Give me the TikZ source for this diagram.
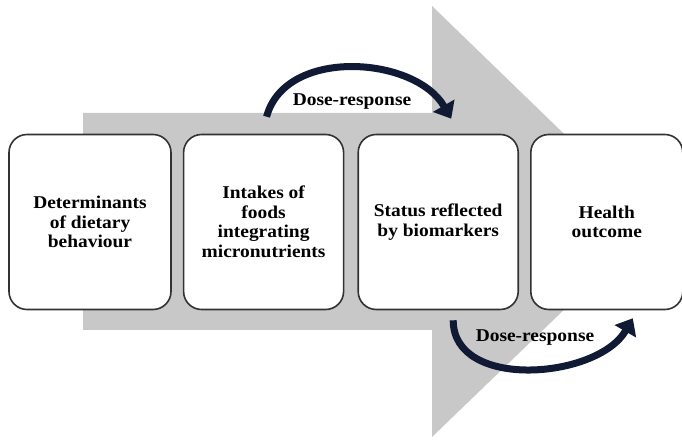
\documentclass[tikz,border=0pt]{standalone}
\usepackage{fontspec}
\setmainfont{Liberation Serif}[FakeStretch=1.08]
\usetikzlibrary{arrows.meta, positioning}
\definecolor{flowgray}{RGB}{200,200,200}
\definecolor{dosenavy}{RGB}{16,26,52}
\definecolor{boxline}{RGB}{50,50,50}

\begin{document}
\begin{tikzpicture}[
		x=1pt, y=1pt,
		node distance=11pt,
		block/.style={
			draw=boxline,
			line width=1.6pt,
			fill=white,
			rounded corners=18pt,
			align=center,
			minimum height=175pt,
			font=\bfseries\fontsize{18}{19.5}\selectfont
		},
		dosearrow/.style={-{Triangle[width=24pt,length=15pt]}, line width=7pt, draw=dosenavy},
		doselabel/.style={font=\bfseries\fontsize{18}{20}\selectfont}
		]
		
		\useasboundingbox (0,0) rectangle (682,439);
		\fill[flowgray] (83,109) -- (432,109) -- (432,2) -- (655,217)
			-- (432,433) -- (432,326) -- (83,326) -- cycle;
		
		\node[block, minimum width=162pt] (determinants) at (90,217)
		{Determinants\\of dietary\\behaviour};
		
		\node[block, minimum width=160pt, right=of determinants] (intakes)
		{Intakes of\\foods\\integrating\\micronutrients};
		
		\node[block, minimum width=160pt, right=13pt of intakes] (status)
		{Status reflected\\by biomarkers};
		
		\node[block, minimum width=152pt, right=of status] (health)
		{Health\\outcome};
		
		\draw[dosearrow] ([xshift=3pt,yshift=17pt]intakes.north)
			to[out=75,in=120] ([xshift=13pt,yshift=15pt]status.north);
		\node[doselabel] (dosetop) at (352,337) {Dose-response};
		
		\draw[dosearrow] ([xshift=15pt,yshift=-10pt]status.south)
			to[out=-90,in=-120] ([xshift=26pt,yshift=-8pt]health.south);
		\node[doselabel] (dosebottom) at (535,101) {Dose-response};
		
	\end{tikzpicture}
\end{document}
